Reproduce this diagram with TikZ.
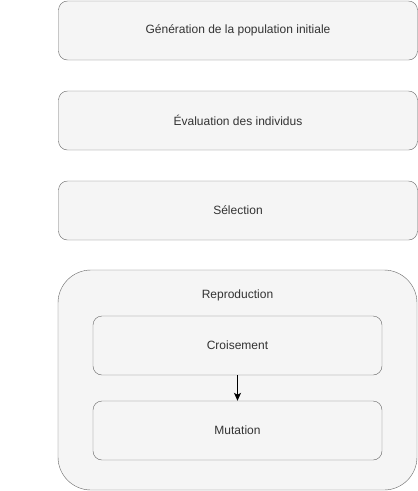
\documentclass[tikz,border=0pt]{standalone}
\usepackage{fontspec}
\setmainfont{Liberation Sans}
\usepackage{xcolor}
\usetikzlibrary{arrows.meta}
\definecolor{boxfill}{HTML}{F5F5F5}
\definecolor{boxline}{HTML}{666666}
\definecolor{boxtext}{HTML}{333333}
\begin{document}
\begin{tikzpicture}[x=1pt,y=-1pt,
    etape/.style={draw=boxline, fill=boxfill, text=boxtext, rounded corners=9pt,
        minimum width=359pt, minimum height=59pt, inner sep=0pt,
        font=\fontsize{12}{14}\selectfont},
    souset/.style={etape, minimum width=289pt}]
	\useasboundingbox (0,0) rectangle (418,491);

        \node[etape] (generation) at (238,30.5) {Génération de la population initiale};
        \node[etape] (evaluation) at (238,120.5) {Évaluation des individus};
        \node[etape] (selection) at (238,210.5) {Sélection};

        \node[etape, rounded corners=33pt, minimum height=220pt] (reproduction) at (237.5,380) {};
        \node[text=boxtext, font=\fontsize{12}{14}\selectfont] (titre) at (237.5,295) {Reproduction};

        \node[souset] (croisement) at (237.5,345.5) {Croisement};
        \node[souset] (mutation) at (237.5,430.5) {Mutation};

        \draw[-{Stealth[length=8pt,width=7pt,inset=2pt]}, line width=1pt] (croisement) -- (mutation);
    \end{tikzpicture}
\end{document}
